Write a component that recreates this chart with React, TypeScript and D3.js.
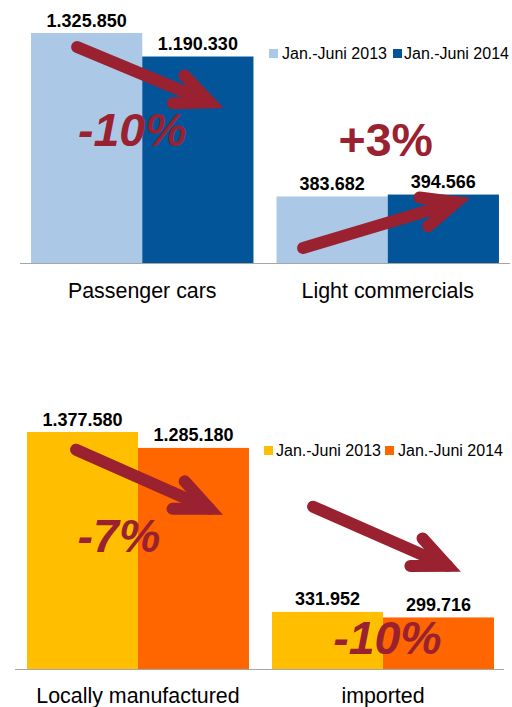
import React from "react";
import * as d3 from "d3";

// ---------- data ----------
const seriesNames = ["Jan.-Juni 2013", "Jan.-Juni 2014"];

const categoriesTop = ["Passenger cars", "Light commercials"];
const valuesTop2013 = [1325850, 383682];
const valuesTop2014 = [1190330, 394566];

const categoriesBottom = ["Locally manufactured", "imported"];
const valuesBottom2013 = [1377580, 331952];
const valuesBottom2014 = [1285180, 299716];

// change annotations: arrow from/to as [fraction across group, value]
const arrowsTop = [
  { cat: 0, from: [0.207, 1245000], to: [0.804, 926000] },
  { cat: 1, from: [0.119, 86500], to: [0.808, 350500] },
];
const changesTop = [
  { cat: 0, text: "-10%", x: 0.455, v: 674500, italic: true },
  { cat: 1, text: "+3%", x: 0.491, v: 616900, italic: false },
];
const arrowsBottom = [
  { cat: 0, from: [0.221, 1274800], to: [0.822, 931200] },
  { cat: 1, from: [0.185, 943500], to: [0.79, 600000] },
];
const changesBottom = [
  { cat: 0, text: "-7%", x: 0.414, v: 681900, italic: true },
  { cat: 1, text: "-10%", x: 0.52, v: 88900, italic: true },
];

const fmt = d3.formatLocale({
  decimal: ",",
  thousands: ".",
  grouping: [3],
  currency: ["", "€"],
}).format(",d");

const FONT = "'Liberation Sans', Arial, sans-serif";
const ARROW = "#9a2130";

type Arrow = { cat: number; from: number[]; to: number[] };
type Change = { cat: number; text: string; x: number; v: number; italic: boolean };

function Panel(props: {
  categories: string[];
  v2013: number[];
  v2014: number[];
  colors: string[];
  x0: number;
  x1: number;
  baseY: number;
  maxVal: number;
  pxPerUnit: number;
  catLabelY: number;
  axisX: [number, number];
  legendX: number[];
  legendY: number;
  arrows: Arrow[];
  changes: Change[];
}) {
  const {
    categories, v2013, v2014, colors, x0, x1, baseY, maxVal, pxPerUnit,
    catLabelY, axisX, legendX, legendY, arrows, changes,
  } = props;
  const x = d3
    .scaleBand<string>()
    .domain(categories)
    .range([x0, x1])
    .paddingInner(0.094)
    .paddingOuter(0.047);
  const y = d3
    .scaleLinear()
    .domain([0, maxVal])
    .range([baseY, baseY - maxVal * pxPerUnit]);
  const inner = d3
    .scaleBand<string>()
    .domain(["0", "1"])
    .range([0, x.bandwidth()]);
  const series = [v2013, v2014];

  const px = (cat: number, f: number) => (x(categories[cat]) as number) + f * x.bandwidth();

  const arrowPaths = arrows.map((a) => {
    const tx = px(a.cat, a.from[0]);
    const ty = y(a.from[1]);
    const vx = px(a.cat, a.to[0]);
    const vy = y(a.to[1]);
    const dx = vx - tx;
    const dy = vy - ty;
    const len = Math.hypot(dx, dy);
    const bx = -dx / len;
    const by = -dy / len;
    const ang = (24 * Math.PI) / 180;
    const L = 37;
    const rot = (s: number) => [
      vx + L * (bx * Math.cos(s * ang) - by * Math.sin(s * ang)),
      vy + L * (bx * Math.sin(s * ang) + by * Math.cos(s * ang)),
    ];
    const w1 = rot(1);
    const w2 = rot(-1);
    return {
      shaft: `M${tx},${ty}L${vx},${vy}`,
      head: `M${w1[0]},${w1[1]}L${vx},${vy}L${w2[0]},${w2[1]}`,
    };
  });

  return (
    <g>
      {series.map((vals, si) =>
        vals.map((v, ci) => (
          <rect
            key={`b${si}-${ci}`}
            x={(x(categories[ci]) as number) + (inner(String(si)) as number)}
            y={y(v)}
            width={inner.bandwidth()}
            height={baseY - y(v)}
            fill={colors[si]}
          />
        ))
      )}
      <line x1={axisX[0]} x2={axisX[1]} y1={baseY + 0.5} y2={baseY + 0.5} stroke="#a6a6a6" strokeWidth={1} />
      {series.map((vals, si) =>
        vals.map((v, ci) => (
          <text
            key={`l${si}-${ci}`}
            x={(x(categories[ci]) as number) + (inner(String(si)) as number) + inner.bandwidth() / 2}
            y={y(v) - 6.5}
            textAnchor="middle"
            fontFamily={FONT}
            fontWeight="bold"
            fontSize={18}
            fill="#000"
          >
            {fmt(v)}
          </text>
        ))
      )}
      {categories.map((c) => (
        <text
          key={c}
          x={(x(c) as number) + x.bandwidth() / 2}
          y={catLabelY}
          textAnchor="middle"
          fontFamily={FONT}
          fontSize={21.4}
          fill="#000"
        >
          {c}
        </text>
      ))}
      {seriesNames.map((s, i) => (
        <g key={s}>
          <rect x={legendX[i * 2]} y={legendY - 10} width={9} height={9} fill={colors[i]} />
          <text x={legendX[i * 2 + 1]} y={legendY} fontFamily={FONT} fontSize={16} fill="#000">
            {s}
          </text>
        </g>
      ))}
      {changes.map((c, i) => (
        <text
          key={`c${i}`}
          x={px(c.cat, c.x)}
          y={y(c.v)}
          textAnchor="middle"
          fontFamily={FONT}
          fontWeight="bold"
          fontStyle={c.italic ? "italic" : "normal"}
          fontSize={46.5}
          fill={ARROW}
        >
          {c.text}
        </text>
      ))}
      {arrowPaths.map((p, i) => (
        <g key={`a${i}`} fill="none" stroke={ARROW} strokeWidth={12}>
          <path d={p.shaft} strokeLinecap="round" />
          <path d={p.head} strokeLinecap="round" strokeLinejoin="miter" strokeMiterlimit={4} />
        </g>
      ))}
    </g>
  );
}

export default function App() {
  return (
    <svg
      width={512}
      height={707}
      style={{ position: "absolute", left: 0, top: 0, background: "#fff" }}
    >
      <rect width={512} height={707} fill="#fff" />
      <Panel
        categories={categoriesTop}
        v2013={valuesTop2013}
        v2014={valuesTop2014}
        colors={["#abc8e6", "#03559a"]}
        x0={19.5}
        x1={510.5}
        baseY={263}
        maxVal={1400000}
        pxPerUnit={1.7347e-4}
        catLabelY={298}
        axisX={[20, 510]}
        legendX={[269, 282, 393, 404]}
        legendY={59}
        arrows={arrowsTop}
        changes={changesTop}
      />
      <Panel
        categories={categoriesBottom}
        v2013={valuesBottom2013}
        v2014={valuesBottom2014}
        colors={["#ffbf00", "#ff6600"]}
        x0={15.5}
        x1={505.5}
        baseY={669}
        maxVal={1400000}
        pxPerUnit={1.7204e-4}
        catLabelY={703}
        axisX={[15, 504]}
        legendX={[264, 276, 385, 398]}
        legendY={456}
        arrows={arrowsBottom}
        changes={changesBottom}
      />
    </svg>
  );
}
